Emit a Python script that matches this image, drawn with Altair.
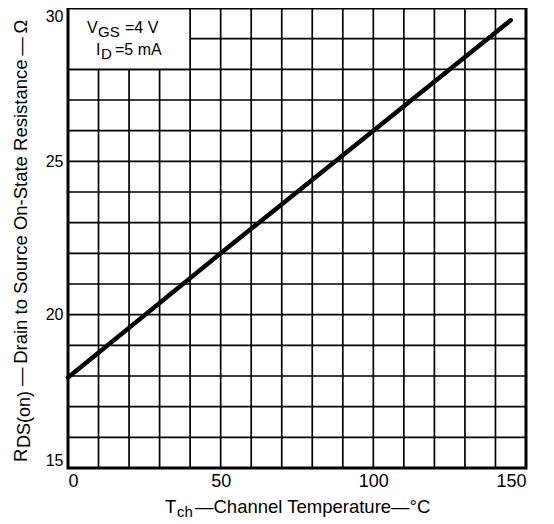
import altair as alt
import pandas as pd

# Curve
temp_c = [0, 50, 100, 145]
rds_ohm = [17.95, 22.0, 26.0, 29.6]

# Axis extents / grid / tick labels
x_domain = [0, 150]
y_domain = [15, 30]
x_grid = list(range(0, 151, 10))
y_grid = list(range(15, 31, 1))
x_labels = [0, 50, 100, 150]
y_labels = [15, 20, 25, 30]

# Condition box (data coords)
box_x = [0, 40]
box_y = [28, 30]

FONT = "Liberation Sans"
W, H = 458, 460

line_df = pd.DataFrame({"T": temp_c, "R": rds_ohm})
box_df = pd.DataFrame({"T": [box_x[0]], "T2": [box_x[1]], "R": [box_y[0]], "R2": [box_y[1]]})
frame_df = pd.DataFrame({"T": [x_domain[0]], "T2": [x_domain[1]], "R": [y_domain[0]], "R2": [y_domain[1]]})
vgrid_df = pd.DataFrame({"T": x_grid})
hgrid_df = pd.DataFrame({"R": y_grid})

xs = alt.Scale(domain=x_domain, nice=False, zero=False)
ys = alt.Scale(domain=y_domain, nice=False, zero=False)

x_axis = alt.Axis(values=x_labels, grid=False, ticks=False, domain=False,
                  labelFontSize=18, labelFont=FONT, labelColor="black",
                  labelPadding=4, labelOverlap=False, title=None)
y_axis = alt.Axis(values=y_labels, grid=False, ticks=False, domain=False,
                  labelFontSize=16, labelFont=FONT, labelColor="black",
                  labelPadding=5, labelFlush=True, labelOverlap=False, title=None)

X = alt.X("T:Q", scale=xs, axis=x_axis)
Y = alt.Y("R:Q", scale=ys, axis=y_axis)

vgrid = alt.Chart(vgrid_df).mark_rule(color="black", strokeWidth=1.7).encode(
    x=X, y=alt.value(0), y2=alt.value(H)
)
hgrid = alt.Chart(hgrid_df).mark_rule(color="black", strokeWidth=1.7).encode(
    y=Y, x=alt.value(0), x2=alt.value(W)
)

box = alt.Chart(box_df).mark_rect(fill="white", stroke="black", strokeWidth=1.7).encode(
    x=X, x2="T2", y=Y, y2="R2"
)

line = alt.Chart(line_df).mark_line(color="black", strokeWidth=4.5, strokeCap="round").encode(
    x=X, y=Y
)

frame = alt.Chart(frame_df).mark_rect(filled=False, stroke="black", strokeWidth=3).encode(
    x=X, x2="T2", y=Y, y2="R2"
)


def txt(s, x, y, size, angle=0):
    return alt.Chart(pd.DataFrame({"t": [s]})).mark_text(
        font=FONT, fontSize=size, color="black", align="left", baseline="alphabetic", angle=angle
    ).encode(text="t:N", x=alt.value(x), y=alt.value(y))


labels = [
    # condition box
    txt("V", 19, 25, 16),
    txt("GS", 30, 29, 15),
    txt("=4 V", 57, 25, 16),
    txt("I", 28, 47, 16),
    txt("D", 33, 51, 15),
    txt("=5 mA", 47, 47, 16),
    # x title
    txt("T", 97, 505, 18.5),
    txt("ch", 109, 509, 15),
    txt("\u2014Channel Temperature\u2014\u00b0C", 127, 505, 18.5),
    # y title (reads bottom to top)
    txt("R", -41, 454, 18.5, 270),
    txt("DS(on)", -38, 440, 18, 270),
    txt("\u2014\u2009Drain to Source On-State Resistance\u2009\u2014\u2009\u03a9", -41, 378, 18.5, 270),
]

chart = alt.layer(vgrid, hgrid, box, line, frame, *labels).properties(
    width=W, height=H,
    autosize=alt.AutoSizeParams(type="none"),
    padding={"left": 60, "top": 0, "right": 20, "bottom": 56},
).configure_view(stroke=None).configure(background="white")

chart.save("out.html", embed_options={"renderer": "svg", "actions": False})
